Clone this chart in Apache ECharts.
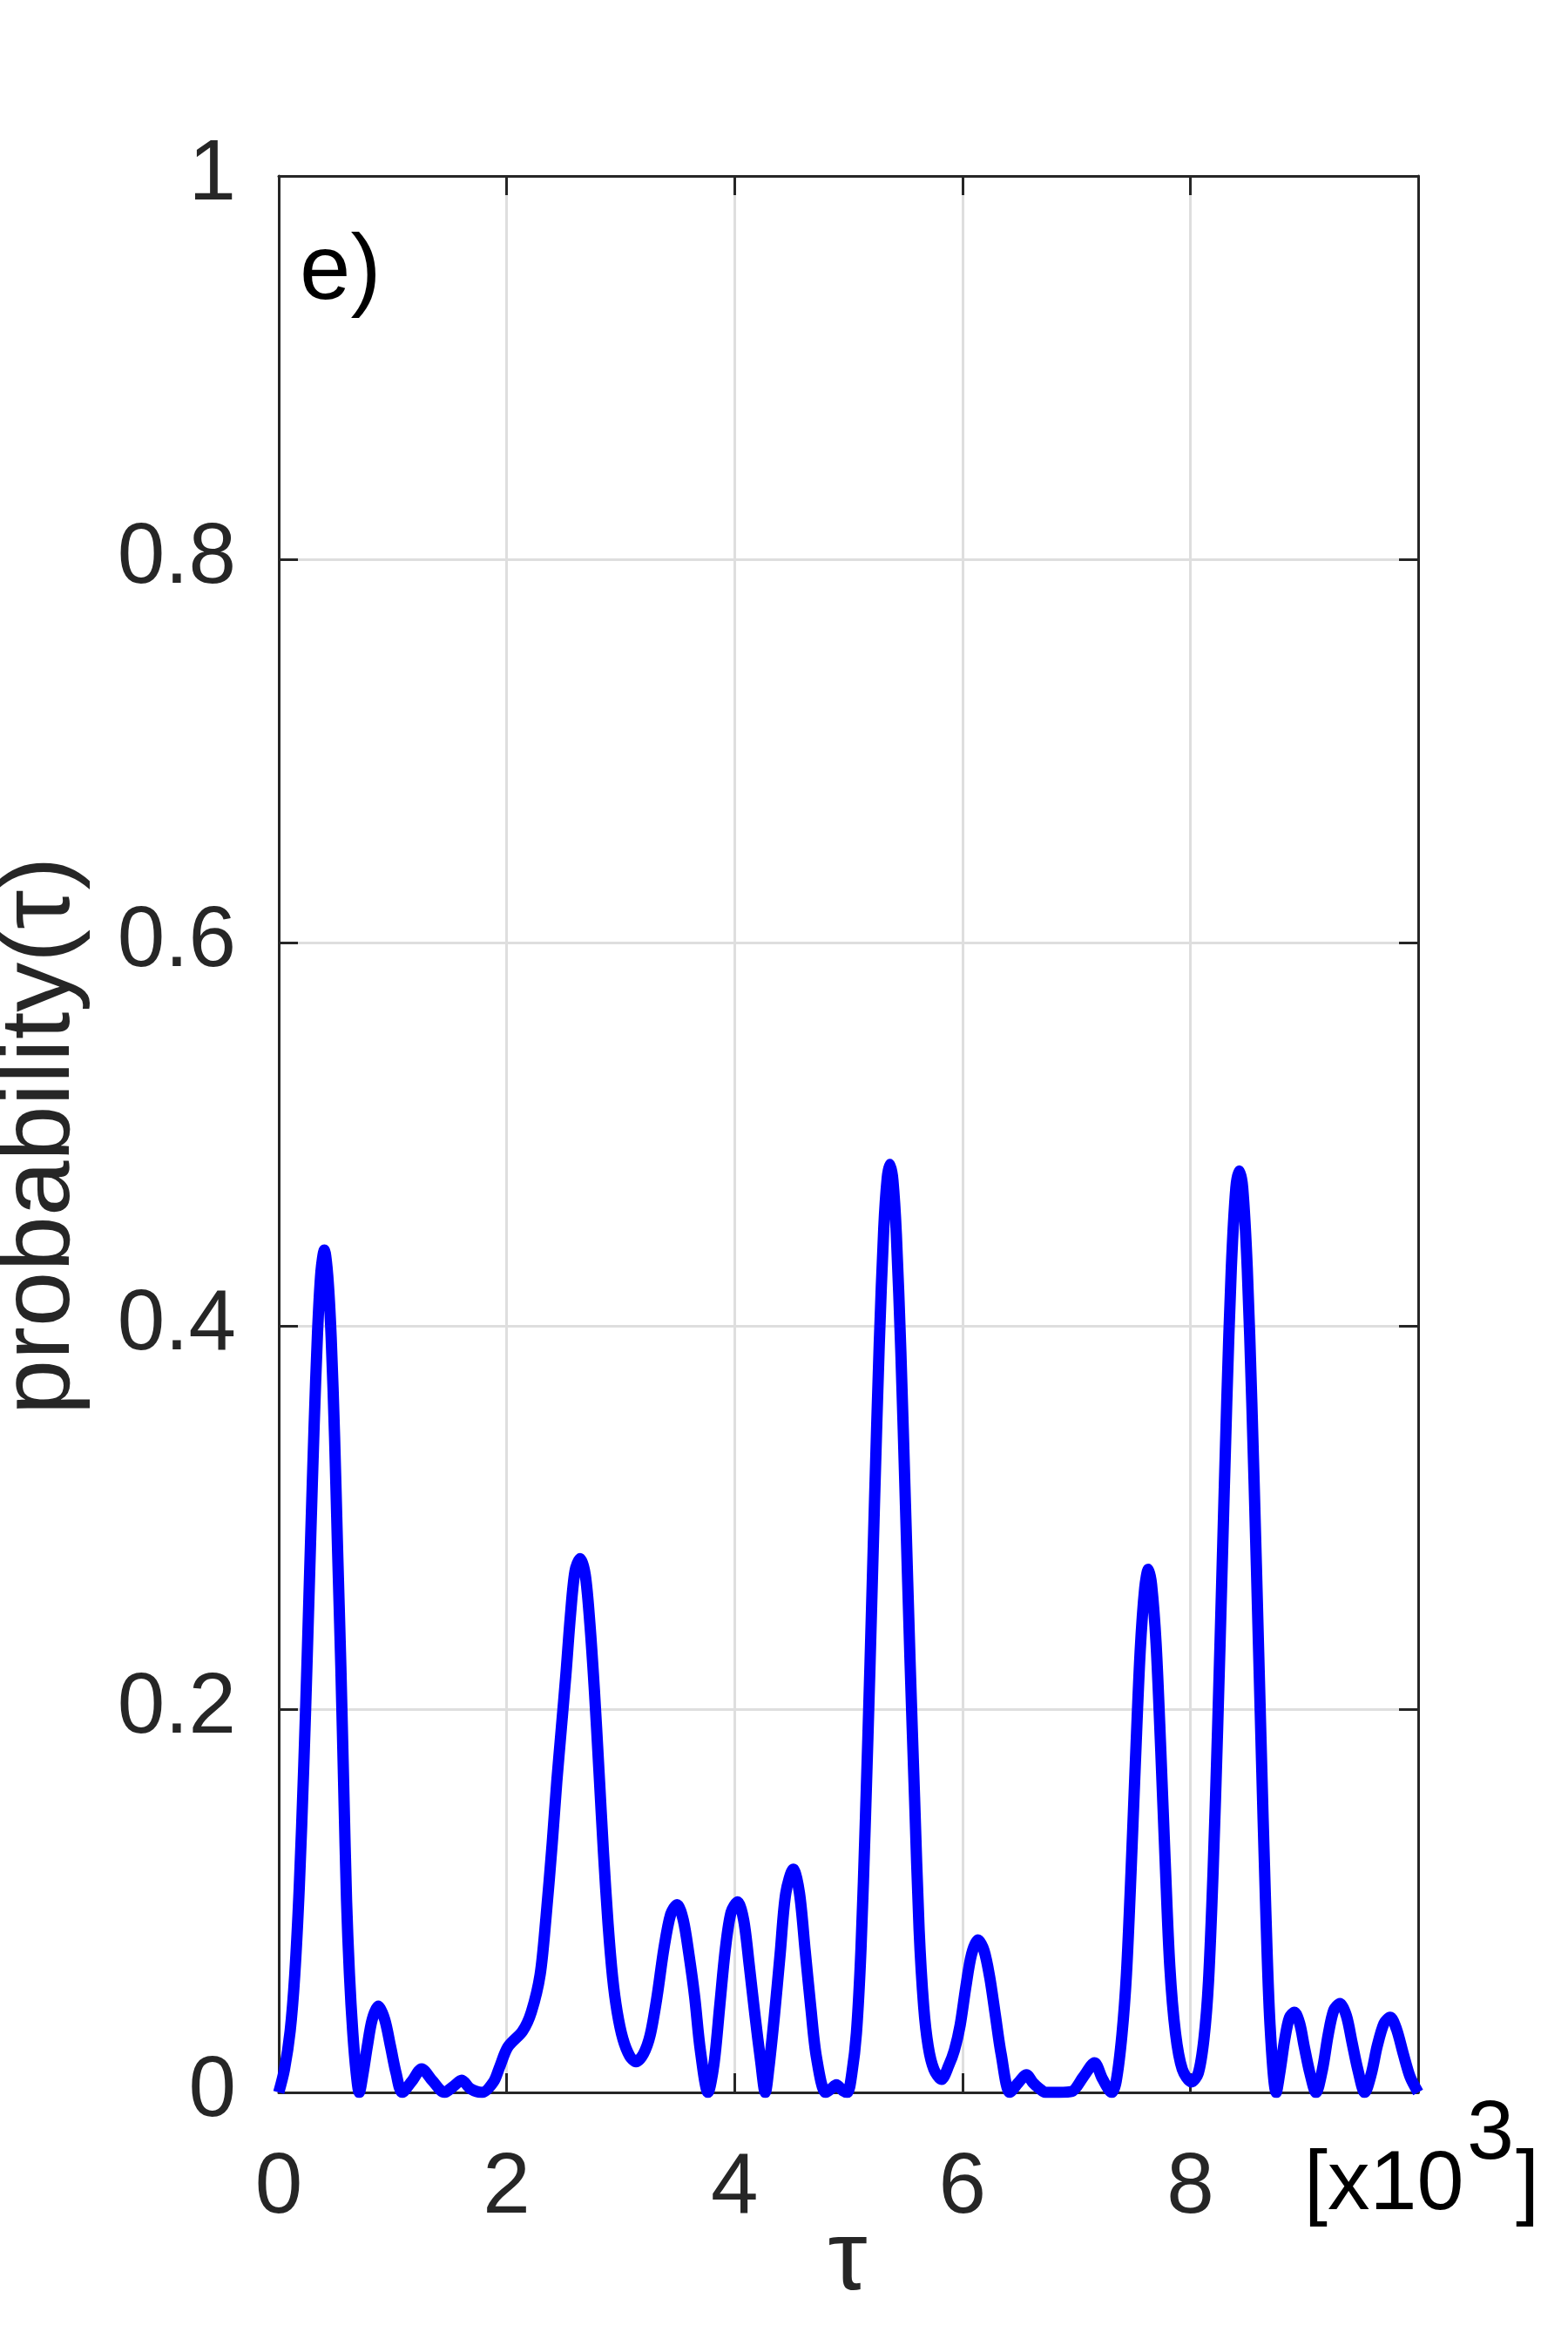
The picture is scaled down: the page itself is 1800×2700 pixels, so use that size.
<!DOCTYPE html>
<html>
<head>
<meta charset="utf-8">
<script src="https://cdn.jsdelivr.net/npm/echarts@6/dist/echarts.min.js"></script>
<style>
	html, body { margin: 0; padding: 0; background: #fff; }
	#echart { width: 1800px; height: 2700px; }
</style>
</head>
<body>
<div id="echart"></div>
<script>
	// tau in units of 10^3
	var tau = [
		0, 0.05, 0.10, 0.14, 0.18, 0.22, 0.25, 0.28, 0.31, 0.34, 0.37, 0.40, 0.43, 0.46, 0.49, 0.515, 0.545, 0.57, 0.595, 0.62, 0.65, 0.68, 0.706,
		0.74, 0.777, 0.82, 0.874, 0.93, 0.981, 1.03, 1.083,
		1.17, 1.254, 1.35, 1.453,
		1.53, 1.606, 1.68, 1.785,
		1.885, 1.937, 2.01, 2.14, 2.217, 2.294, 2.345, 2.40, 2.44, 2.48, 2.52, 2.56, 2.60, 2.645, 2.69, 2.73, 2.77, 2.81, 2.85, 2.89, 2.93, 2.97, 3.02, 3.08, 3.135,
		3.20, 3.26, 3.32, 3.38, 3.44, 3.496, 3.55, 3.60, 3.65, 3.70, 3.767,
		3.82, 3.87, 3.92, 3.97, 4.027, 4.08, 4.13, 4.18, 4.23, 4.27,
		4.30, 4.35, 4.40, 4.45, 4.516, 4.57, 4.62, 4.67, 4.72, 4.80,
		4.85, 4.893, 4.95, 4.99,
		5.03, 5.07, 5.11, 5.15, 5.19, 5.23, 5.27, 5.31, 5.34, 5.364, 5.39, 5.42, 5.46, 5.50, 5.54, 5.58, 5.62, 5.66, 5.70, 5.75, 5.816, 5.88,
		5.93, 5.98, 6.03, 6.08, 6.137, 6.19, 6.24, 6.29, 6.34, 6.417,
		6.49, 6.562, 6.62, 6.676, 6.73, 6.85, 6.96, 7.06, 7.16, 7.23, 7.31,
		7.35, 7.40, 7.44, 7.48, 7.52, 7.56, 7.60, 7.632, 7.66, 7.70, 7.74, 7.78, 7.82, 7.87, 7.93, 8.01,
		8.07, 8.12, 8.16, 8.20, 8.24, 8.28, 8.32, 8.36, 8.40, 8.43, 8.46, 8.50, 8.54, 8.58, 8.62, 8.66, 8.70, 8.754,
		8.79, 8.83, 8.87, 8.914, 8.96, 9.0, 9.05, 9.103,
		9.16, 9.21, 9.26, 9.314, 9.37, 9.42, 9.47, 9.531,
		9.59, 9.64, 9.70, 9.755, 9.81, 9.87, 9.93, 10
	];
	var prob = [
		0, 0.012, 0.032, 0.061, 0.107, 0.171, 0.228, 0.289, 0.347, 0.396, 0.428, 0.4395, 0.426, 0.394, 0.342, 0.286, 0.222, 0.16, 0.10, 0.062, 0.031, 0.01, 0,
		0.01, 0.024, 0.038, 0.045, 0.038, 0.024, 0.01, 0,
		0.006, 0.0123, 0.006, 0,
		0.003, 0.0064, 0.002, 0,
		0.0055, 0.013, 0.0236, 0.032, 0.042, 0.0615, 0.091, 0.13, 0.162, 0.19, 0.218, 0.249, 0.272, 0.2785, 0.27, 0.245, 0.21, 0.168, 0.125, 0.088, 0.06, 0.042, 0.028, 0.019, 0.016,
		0.02, 0.03, 0.05, 0.075, 0.093, 0.098, 0.09, 0.072, 0.05, 0.022, 0,
		0.015, 0.045, 0.075, 0.094, 0.0994, 0.09, 0.066, 0.04, 0.016, 0,
		0.012, 0.04, 0.072, 0.104, 0.1165, 0.104, 0.074, 0.044, 0.018, 0,
		0.002, 0.004, 0.001, 0,
		0.01, 0.031, 0.075, 0.145, 0.225, 0.311, 0.39, 0.451, 0.477, 0.4842, 0.476, 0.448, 0.386, 0.307, 0.226, 0.154, 0.085, 0.045, 0.024, 0.012, 0.0068, 0.014,
		0.022, 0.035, 0.055, 0.072, 0.0795, 0.074, 0.06, 0.04, 0.02, 0,
		0.005, 0.0092, 0.005, 0.002, 0, 0, 0.0005, 0.008, 0.0154, 0.007, 0,
		0.006, 0.03, 0.062, 0.115, 0.175, 0.23, 0.263, 0.273, 0.265, 0.234, 0.18, 0.12, 0.066, 0.031, 0.012, 0.0055,
		0.01, 0.028, 0.058, 0.115, 0.19, 0.275, 0.36, 0.43, 0.472, 0.4808, 0.472, 0.43, 0.36, 0.275, 0.185, 0.10, 0.035, 0,
		0.012, 0.028, 0.039, 0.0418, 0.036, 0.024, 0.01, 0,
		0.012, 0.03, 0.043, 0.0464, 0.04, 0.026, 0.012, 0,
		0.01, 0.024, 0.036, 0.0392, 0.033, 0.02, 0.008, 0
	];
	var xTicks = [0, 2, 4, 6, 8, 10];
	var yTicks = [0, 0.2, 0.4, 0.6, 0.8, 1];

	var font = 'Liberation Sans';
	var dark = '#262626';

	var myChart = echarts.init(document.getElementById('echart'));

	var boxLine = { show: true, onZero: false, lineStyle: { color: dark, width: 3 } };
	var boxTick = { show: true, inside: true, length: 22, lineStyle: { color: dark, width: 3 } };

	myChart.setOption({
		backgroundColor: '#fff',
		animation: false,
		grid: { left: 320, top: 202, width: 1308, height: 2200, containLabel: false },
		xAxis: [{
			type: 'value', position: 'bottom',
			min: xTicks[0], max: xTicks[xTicks.length - 1], interval: 2,
			axisLine: boxLine, axisTick: boxTick,
			axisLabel: {
				fontSize: 98, color: dark, fontFamily: font, margin: 62,
				formatter: function (v) { return v === 10 ? '' : String(v); }
			},
			splitLine: { show: true, lineStyle: { color: '#dedede', width: 3 } }
		}, {
			type: 'value', position: 'top',
			min: xTicks[0], max: xTicks[xTicks.length - 1], interval: 2,
			axisLine: boxLine, axisTick: boxTick,
			axisLabel: { show: false }, splitLine: { show: false }
		}],
		yAxis: [{
			type: 'value', position: 'left',
			min: yTicks[0], max: yTicks[yTicks.length - 1], interval: 0.2,
			axisLine: boxLine, axisTick: boxTick,
			axisLabel: {
				fontSize: 98, color: dark, fontFamily: font, margin: 49,
				formatter: function (v) { return String(+v.toFixed(1)); }
			},
			splitLine: { show: true, lineStyle: { color: '#dedede', width: 3 } }
		}, {
			type: 'value', position: 'right',
			min: yTicks[0], max: yTicks[yTicks.length - 1], interval: 0.2,
			axisLine: boxLine, axisTick: boxTick,
			axisLabel: { show: false }, splitLine: { show: false }
		}],
		series: [{
			type: 'line',
			xAxisIndex: 0,
			yAxisIndex: 0,
			data: tau.map(function (t, i) { return [t, prob[i]]; }),
			showSymbol: false,
			smooth: 0.3,
			lineStyle: { color: '#0000ff', width: 13, join: 'round' }
		}],
		graphic: [
			{ type: 'text', left: 344, top: 262, z: 10,
			  style: { text: 'e)', fontSize: 105, fontFamily: font, fill: '#000' } },
			{ type: 'text', x: 973, y: 2597, z: 10,
			  style: { text: 'τ', fontSize: 114, fontFamily: font, fill: dark, align: 'center', verticalAlign: 'middle' } },
			{ type: 'text', x: 48, y: 1304, rotation: Math.PI / 2, z: 10,
			  style: { text: 'probability(τ)', fontSize: 114, fontFamily: font, fill: dark, align: 'center', verticalAlign: 'middle' } },
			{ type: 'text', x: 1497, y: 2509, z: 10,
			  style: { text: '[x10', fontSize: 97, fontFamily: font, fill: '#000', align: 'left', verticalAlign: 'middle' } },
			{ type: 'text', x: 1684, y: 2451, z: 10,
			  style: { text: '3', fontSize: 97, fontFamily: font, fill: '#000', align: 'left', verticalAlign: 'middle' } },
			{ type: 'text', x: 1740, y: 2509, z: 10,
			  style: { text: ']', fontSize: 97, fontFamily: font, fill: '#000', align: 'left', verticalAlign: 'middle' } }
		]
	});
</script>
</body>
</html>
